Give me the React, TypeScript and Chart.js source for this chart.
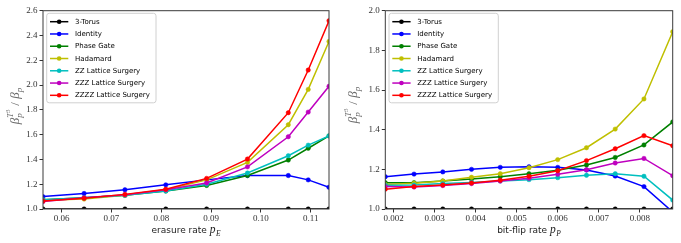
import React, { useEffect, useRef } from 'react';
import { Chart, registerables } from 'chart.js';
Chart.register(...registerables);

const seriesNames = ['3-Torus', 'Identity', 'Phase Gate', 'Hadamard', 'ZZ Lattice Surgery', 'ZZZ Lattice Surgery', 'ZZZZ Lattice Surgery'];
const seriesColors = ['#000000', '#0000ff', '#008000', '#bfbf00', '#00bfbf', '#bf00bf', '#ff0000'];

// Left panel: erasure rate
const erasureRates = [0.05625, 0.0645, 0.0727, 0.0809, 0.0891, 0.0973, 0.1055, 0.1095, 0.11367];
const erasureTorus = [1, 1, 1, 1, 1, 1, 1, 1, 1];
const erasureIdentity = [1.1, 1.125, 1.155, 1.195, 1.235, 1.27, 1.27, 1.235, 1.175];
const erasurePhase = [1.075, 1.09, 1.11, 1.145, 1.19, 1.27, 1.395, 1.49, 1.59];
const erasureHadamard = [1.07, 1.08, 1.11, 1.155, 1.235, 1.376, 1.68, 1.965, 2.352];
const erasureZZ = [1.075, 1.09, 1.11, 1.145, 1.2, 1.29, 1.43, 1.515, 1.59];
const erasureZZZ = [1.06, 1.09, 1.115, 1.155, 1.21, 1.34, 1.583, 1.782, 1.99];
const erasureZZZZ = [1.065, 1.086, 1.118, 1.159, 1.247, 1.403, 1.777, 2.121, 2.519];
const erasureXTicks = [0.06, 0.07, 0.08, 0.09, 0.1, 0.11];
const erasureYTicks = [1.0, 1.2, 1.4, 1.6, 1.8, 2.0, 2.2, 2.4, 2.6];

// Right panel: bit-flip rate
const bitflipRates = [0.0018, 0.0025, 0.0032, 0.0039, 0.0046, 0.0053, 0.006, 0.0067, 0.0074, 0.0081, 0.0088];
const bitflipTorus = [1, 1, 1, 1, 1, 1, 1, 1, 1, 1, 1];
const bitflipIdentity = [1.163, 1.176, 1.187, 1.2, 1.21, 1.213, 1.21, 1.197, 1.166, 1.113, 0.985];
const bitflipPhase = [1.133, 1.133, 1.141, 1.151, 1.163, 1.178, 1.195, 1.222, 1.26, 1.323, 1.439];
const bitflipHadamard = [1.124, 1.13, 1.141, 1.16, 1.178, 1.208, 1.249, 1.309, 1.403, 1.555, 1.894];
const bitflipZZ = [1.12, 1.121, 1.128, 1.134, 1.141, 1.148, 1.158, 1.17, 1.178, 1.165, 1.045];
const bitflipZZZ = [1.113, 1.111, 1.118, 1.128, 1.141, 1.155, 1.175, 1.198, 1.232, 1.255, 1.168];
const bitflipZZZZ = [1.1, 1.113, 1.121, 1.131, 1.145, 1.165, 1.193, 1.244, 1.304, 1.37, 1.319];
const bitflipXTicks = [0.002, 0.003, 0.004, 0.005, 0.006, 0.007, 0.008];
const bitflipYTicks = [1.0, 1.2, 1.4, 1.6, 1.8, 2.0];

type PanelCfg = {
  xs: number[];
  series: number[][];
  xTicks: number[];
  yTicks: number[];
  xDecimals: number;
  xMin: number;
  xMax: number;
  yMin: number;
  yMax: number;
  yAxisWidth: number;
  padRight: number;
  xLabel: string;
  xSub: string;
  yLabelX: number;
  yLabelY: number;
};

function drawYLabel(ctx: CanvasRenderingContext2D, x: number, cy: number) {
  const big = 'italic 13px "Liberation Serif"';
  const bigUp = '13px "Liberation Serif"';
  const mid = 'italic 9px "Liberation Serif"';
  const small = '6.5px "Liberation Serif"';
  ctx.save();
  ctx.font = big;
  const wB = ctx.measureText('β').width;
  ctx.font = mid;
  const wT = ctx.measureText('T').width;
  const wp = ctx.measureText('p').width;
  ctx.font = small;
  const w3 = ctx.measureText('3').width;
  ctx.font = bigUp;
  const wS = ctx.measureText(' / ').width;
  const stackW = Math.max(wT + w3, wp) + 0.5;
  const total = wB + stackW + wS + wB + wp;
  ctx.translate(x, cy);
  ctx.rotate(-Math.PI / 2);
  ctx.fillStyle = '#6a6a6a';
  ctx.textBaseline = 'alphabetic';
  ctx.textAlign = 'left';
  let cx = -total / 2;
  const base = 4;
  ctx.font = big;
  ctx.fillText('β', cx, base);
  cx += wB;
  ctx.font = mid;
  ctx.fillText('T', cx, base - 6);
  ctx.fillText('p', cx, base + 3);
  ctx.font = small;
  ctx.fillText('3', cx + wT, base - 9.5);
  cx += stackW;
  ctx.font = bigUp;
  ctx.fillText(' / ', cx, base);
  cx += wS;
  ctx.font = big;
  ctx.fillText('β', cx, base);
  cx += wB;
  ctx.font = mid;
  ctx.fillText('p', cx, base + 3);
  ctx.restore();
}

function drawXLabel(ctx: CanvasRenderingContext2D, cx: number, y: number, text: string, sub: string) {
  ctx.save();
  const f1 = '9px "DejaVu Sans"';
  const f2 = 'italic 11.5px "Liberation Serif"';
  const f3 = 'italic 7.5px "Liberation Serif"';
  ctx.font = f1;
  const w1 = ctx.measureText(text).width;
  ctx.font = f2;
  const w2 = ctx.measureText('p').width;
  ctx.font = f3;
  const w3 = ctx.measureText(sub).width;
  const total = w1 + w2 + w3 + 0.5;
  let x = cx - total / 2;
  ctx.fillStyle = '#1a1a1a';
  ctx.textBaseline = 'alphabetic';
  ctx.textAlign = 'left';
  ctx.font = f1;
  ctx.fillText(text, x, y);
  x += w1;
  ctx.font = f2;
  ctx.fillText('p', x, y);
  x += w2 + 0.5;
  ctx.font = f3;
  ctx.fillText(sub, x, y + 2.5);
  ctx.restore();
}

function makeDecor(cfg: PanelCfg) {
  return {
    id: 'decor',
    afterDatasetsDraw(chart: any) {
      const ctx: CanvasRenderingContext2D = chart.ctx;
      const a = chart.chartArea;
      ctx.save();
      ctx.strokeStyle = '#3a3a3a';
      ctx.lineWidth = 1;
      ctx.strokeRect(a.left, a.top, a.right - a.left, a.bottom - a.top);
      const bx = a.left + 3.7;
      const by = a.top + 2.6;
      const bw = 109.3;
      const bh = 89.5;
      ctx.beginPath();
      (ctx as any).roundRect(bx, by, bw, bh, 2.5);
      ctx.fillStyle = 'rgba(255,255,255,0.85)';
      ctx.fill();
      ctx.strokeStyle = '#d0d0d0';
      ctx.lineWidth = 1;
      ctx.stroke();
      ctx.font = '7px "DejaVu Sans"';
      ctx.textBaseline = 'middle';
      ctx.textAlign = 'left';
      for (let i = 0; i < seriesNames.length; i++) {
        const y = by + 8.4 + i * 12.27;
        const c = seriesColors[i];
        ctx.strokeStyle = c;
        ctx.lineWidth = 1.5;
        ctx.beginPath();
        ctx.moveTo(bx + 3.3, y);
        ctx.lineTo(bx + 21.6, y);
        ctx.stroke();
        ctx.fillStyle = c;
        ctx.beginPath();
        ctx.arc(bx + 12.45, y, 2.3, 0, Math.PI * 2);
        ctx.fill();
        ctx.fillStyle = '#000000';
        ctx.fillText(seriesNames[i], bx + 28.3, y + 0.3);
      }
      ctx.restore();
    },
    afterDraw(chart: any) {
      const ctx: CanvasRenderingContext2D = chart.ctx;
      const a = chart.chartArea;
      drawYLabel(ctx, cfg.yLabelX, cfg.yLabelY);
      drawXLabel(ctx, (a.left + a.right) / 2, 233, cfg.xLabel, cfg.xSub);
    },
  };
}

function buildChart(canvas: HTMLCanvasElement, cfg: PanelCfg) {
  const datasets = cfg.series.map((vals, i) => ({
    label: seriesNames[i],
    data: cfg.xs.map((x, j) => ({ x, y: vals[j] })),
    borderColor: seriesColors[i],
    backgroundColor: seriesColors[i],
    pointBackgroundColor: seriesColors[i],
    pointBorderColor: seriesColors[i],
    pointBorderWidth: 0.5,
    pointRadius: 2.2,
    borderWidth: 1.5,
    tension: 0,
    clip: 0,
    order: seriesNames.length - i,
  }));
  return new Chart(canvas, {
    type: 'line',
    data: { datasets },
    plugins: [makeDecor(cfg)],
    options: {
      animation: false,
      responsive: false,
      maintainAspectRatio: false,
      events: [],
      layout: { padding: { top: 10.7, right: cfg.padRight, bottom: 0, left: 0 } },
      plugins: { legend: { display: false }, tooltip: { enabled: false } },
      scales: {
        x: {
          type: 'linear',
          min: cfg.xMin,
          max: cfg.xMax,
          afterBuildTicks: (scale: any) => {
            scale.ticks = cfg.xTicks.map((v) => ({ value: v }));
          },
          afterFit: (scale: any) => {
            scale.height = 34;
          },
          ticks: {
            autoSkip: false,
            maxRotation: 0,
            padding: 1,
            color: '#333333',
            font: { family: '"Liberation Serif"', size: 9 },
            callback: (v: any) => Number(v).toFixed(cfg.xDecimals),
          },
          grid: { display: true, drawOnChartArea: false, drawTicks: true, tickLength: 3.5, tickColor: '#333333' },
          border: { display: false },
        },
        y: {
          type: 'linear',
          min: cfg.yMin,
          max: cfg.yMax,
          afterBuildTicks: (scale: any) => {
            scale.ticks = cfg.yTicks.map((v) => ({ value: v }));
          },
          afterFit: (scale: any) => {
            scale.width = cfg.yAxisWidth;
          },
          ticks: {
            autoSkip: false,
            padding: 2,
            color: '#333333',
            font: { family: '"Liberation Serif"', size: 9 },
            callback: (v: any) => Number(v).toFixed(1),
          },
          grid: { display: true, drawOnChartArea: false, drawTicks: true, tickLength: 3.5, tickColor: '#333333' },
          border: { display: false },
        },
      },
    } as any,
  });
}

const leftCfg: PanelCfg = {
  xs: erasureRates,
  series: [erasureTorus, erasureIdentity, erasurePhase, erasureHadamard, erasureZZ, erasureZZZ, erasureZZZZ],
  xTicks: erasureXTicks,
  yTicks: erasureYTicks,
  xDecimals: 2,
  xMin: 0.05625,
  xMax: 0.11367,
  yMin: 1.0,
  yMax: 2.6,
  yAxisWidth: 43,
  padRight: 11,
  xLabel: 'erasure rate ',
  xSub: 'E',
  yLabelX: 15,
  yLabelY: 106,
};

const rightCfg: PanelCfg = {
  xs: bitflipRates,
  series: [bitflipTorus, bitflipIdentity, bitflipPhase, bitflipHadamard, bitflipZZ, bitflipZZZ, bitflipZZZZ],
  xTicks: bitflipXTicks,
  yTicks: bitflipYTicks,
  xDecimals: 3,
  xMin: 0.0018,
  xMax: 0.0088,
  yMin: 1.0,
  yMax: 2.0,
  yAxisWidth: 45.3,
  padRight: 8.3,
  xLabel: 'bit-flip rate ',
  xSub: 'P',
  yLabelX: 13,
  yLabelY: 105,
};

export default function App() {
  const leftRef = useRef<HTMLCanvasElement>(null);
  const rightRef = useRef<HTMLCanvasElement>(null);
  useEffect(() => {
    const c1 = buildChart(leftRef.current as HTMLCanvasElement, leftCfg);
    const c2 = buildChart(rightRef.current as HTMLCanvasElement, rightCfg);
    return () => {
      c1.destroy();
      c2.destroy();
    };
  }, []);
  return (
    <div style={{ position: 'absolute', left: 0, top: 0, width: 681, height: 243, background: '#ffffff' }}>
      <canvas ref={leftRef} width={340} height={243} style={{ position: 'absolute', left: 0, top: 0, width: 340, height: 243 }} />
      <canvas ref={rightRef} width={341} height={243} style={{ position: 'absolute', left: 340, top: 0, width: 341, height: 243 }} />
    </div>
  );
}
